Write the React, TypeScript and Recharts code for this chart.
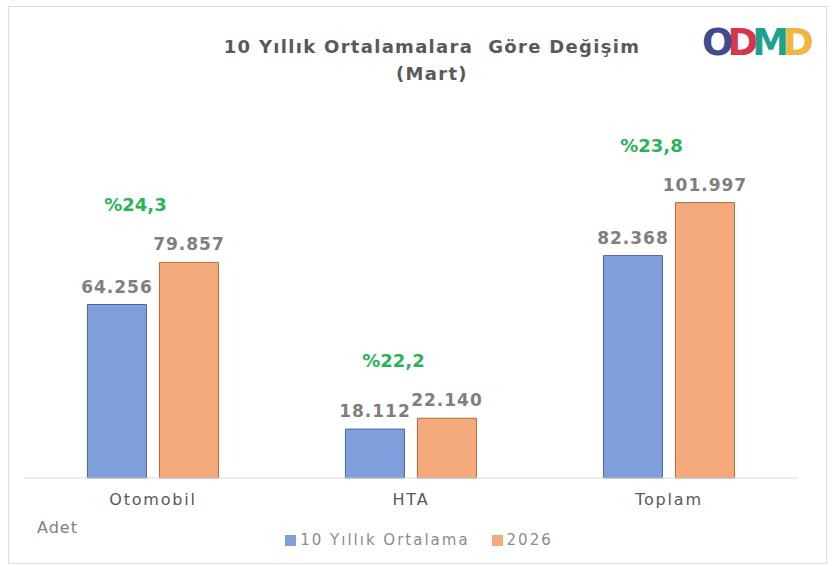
import {Bar, BarChart, LabelList, Legend, XAxis, YAxis} from "recharts";

// Mart ayı, 10 yıllık ortalama ile 2026 karşılaştırması
const categories = ["Otomobil", "HTA", "Toplam"];
const avg10 = [64256, 18112, 82368];
const y2026 = [79857, 22140, 101997];
const pctChange = ["%24,3", "%22,2", "%23,8"];

const data = categories.map((name, i) => ({
    name,
    avg: avg10[i],
    cur: y2026[i],
    pct: pctChange[i],
}));

const font = "'DejaVu Sans', sans-serif";
const fmt = (v: number) => v.toLocaleString("de-DE");

const PctLabel = (props: any) => {
    const {x, y, value} = props;
    return (
        <text x={x - 24} y={y - 51} textAnchor="middle" fill="#2cb35a"
              fontSize={18} fontWeight="bold" fontFamily={font}>
            {value}
        </text>
    );
};

export default function App() {
    return (
        <div style={{position: "absolute", left: 0, top: 0, width: 832, height: 566, background: "#fff", fontFamily: font}}>
            <div style={{position: "absolute", left: 8, top: 6, width: 817, height: 556, border: "1px solid #dcdcdc"}}/>
            <div style={{position: "absolute", left: 0, width: 864, top: 33, textAlign: "center", color: "#595959",
                fontSize: 18, fontWeight: "bold", lineHeight: "27px", letterSpacing: 1.3}}>
                10 Yıllık Ortalamalara&nbsp; Göre Değişim<br/>(Mart)
            </div>
            <div style={{position: "absolute", left: 702, top: 22, fontSize: 37, fontWeight: "bold", letterSpacing: -6, lineHeight: "42px"}}>
                <span style={{color: "#3f4b8e"}}>O</span>
                <span style={{color: "#d8344e"}}>D</span>
                <span style={{color: "#1ea38b"}}>M</span>
                <span style={{color: "#f1b63e"}}>D</span>
            </div>
            <div style={{position: "absolute", left: 37, top: 518, fontSize: 16, letterSpacing: 1, color: "#7f7f7f"}}>Adet</div>
            <BarChart width={832} height={566} data={data}
                      margin={{top: 154, right: 34, bottom: 40, left: 24}}
                      barCategoryGap="24.6%" barGap={13}>
                <XAxis dataKey="name" tickLine={false} axisLine={{stroke: "#d9d9d9"}}
                       tick={{fill: "#595959", fontSize: 16, fontFamily: font, letterSpacing: 1.8}} dy={8}/>
                <YAxis hide domain={[0, 120000]} width={0}/>
                <Legend verticalAlign="bottom" iconType="square" iconSize={11}
                        wrapperStyle={{top: 531, left: 14, width: 832, fontSize: 15, fontFamily: font, letterSpacing: 2}}
                        formatter={(v) => <span style={{color: "#8c8c8c", marginRight: 12}}>{v}</span>}/>
                <Bar dataKey="avg" name="10 Yıllık Ortalama" fill="#7f9fdd" stroke="#4d64a3" strokeWidth={1}
                     isAnimationActive={false}>
                    <LabelList dataKey="avg" position="top" offset={12} formatter={(v: any) => fmt(v)}
                               style={{fill: "#7f7f7f", fontSize: 17, fontWeight: "bold", fontFamily: font, letterSpacing: 1}}/>
                </Bar>
                <Bar dataKey="cur" name="2026" fill="#f4aa7a" stroke="#b06d3e" strokeWidth={1}
                     isAnimationActive={false}>
                    <LabelList dataKey="cur" position="top" offset={12} formatter={(v: any) => fmt(v)}
                               style={{fill: "#7f7f7f", fontSize: 17, fontWeight: "bold", fontFamily: font, letterSpacing: 1}}/>
                    <LabelList dataKey="pct" content={<PctLabel/>}/>
                </Bar>
            </BarChart>
        </div>
    );
}
